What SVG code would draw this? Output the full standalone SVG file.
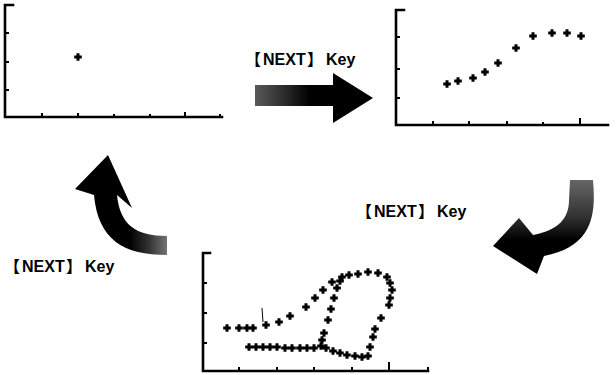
<svg xmlns="http://www.w3.org/2000/svg" xmlns:xlink="http://www.w3.org/1999/xlink" width="616" height="375" viewBox="0 0 616 375">
<style>
.ax{fill:none;stroke:#000;stroke-width:2.6;stroke-linecap:square}
.tk{fill:none;stroke:#000;stroke-width:2}
.lbl{font-family:"Liberation Sans","Noto Sans CJK JP",sans-serif;font-size:16px;font-weight:700;fill:#000}
.br{font-family:"Noto Sans CJK JP",sans-serif;font-weight:700}
</style>
<defs>
<g id="p"><path d="M-3.8,0H3.8M0,-3.8V3.8" stroke="#000" stroke-width="3"/></g>
<linearGradient id="g1" x1="255" y1="0" x2="333" y2="0" gradientUnits="userSpaceOnUse">
<stop offset="0" stop-color="#5a5a5a"/><stop offset="0.45" stop-color="#222"/><stop offset="0.7" stop-color="#000"/></linearGradient>
<linearGradient id="g2" x1="0" y1="180" x2="0" y2="240" gradientUnits="userSpaceOnUse">
<stop offset="0" stop-color="#666"/><stop offset="0.6" stop-color="#333"/><stop offset="1" stop-color="#000"/></linearGradient>
<linearGradient id="g3" x1="130" y1="0" x2="168" y2="0" gradientUnits="userSpaceOnUse">
<stop offset="0" stop-color="#000"/><stop offset="0.5" stop-color="#333"/><stop offset="1" stop-color="#777"/></linearGradient>
</defs>

<g id="chart1">
<path class="ax" d="M13,5H5V117H222"/>
<path class="tk" d="M5,33H9M5,62H9M5,90H9M42,117V113M78,117V113M114,117V114M150,117V114M185,117V112M220,117V114"/>
<use href="#p" x="78" y="57"/>
</g>

<g id="chart2">
<path class="ax" d="M404,10H396V125H608"/>
<path class="tk" d="M396,37H400M396,69H400M396,98H400M433,125V121M469,125V121M507,125V121M543,125V122M580,125V118"/>
<use href="#p" x="447" y="84"/><use href="#p" x="458" y="81"/><use href="#p" x="473" y="78"/>
<use href="#p" x="485" y="72"/><use href="#p" x="498" y="63"/><use href="#p" x="516" y="48"/>
<use href="#p" x="533" y="36"/><use href="#p" x="552" y="33"/><use href="#p" x="567" y="33"/>
<use href="#p" x="581" y="36"/>
</g>

<g id="chart3">
<path class="ax" d="M210,253H203V371H428"/>
<path class="tk" d="M203,283H207M203,313H207M203,343H207M239,371V367M277,371V367M314,371V367M352,371V367M389,371V362M428,371V367"/>
<path d="M262,308L263,322" stroke="#000" stroke-width="1"/>
<g>
<use href="#p" x="227" y="328"/><use href="#p" x="239" y="328"/><use href="#p" x="247" y="328"/>
<use href="#p" x="253" y="328"/><use href="#p" x="266" y="325"/><use href="#p" x="279" y="322"/>
<use href="#p" x="290" y="316"/><use href="#p" x="306" y="307"/><use href="#p" x="315" y="298"/>
<use href="#p" x="323" y="290"/><use href="#p" x="332" y="282"/><use href="#p" x="342" y="277"/>
<use href="#p" x="349" y="275"/><use href="#p" x="358" y="274"/><use href="#p" x="368" y="272"/>
<use href="#p" x="378" y="273"/><use href="#p" x="387" y="277"/><use href="#p" x="390" y="283"/>
<use href="#p" x="392" y="290"/><use href="#p" x="390" y="298"/><use href="#p" x="389" y="305"/>
<use href="#p" x="381" y="318"/><use href="#p" x="375" y="329"/><use href="#p" x="373" y="337"/>
<use href="#p" x="370" y="347"/><use href="#p" x="368" y="356"/>
</g>
<g>
<use href="#p" x="249" y="347"/><use href="#p" x="256" y="347"/><use href="#p" x="263" y="347"/>
<use href="#p" x="270" y="347"/><use href="#p" x="277" y="347"/><use href="#p" x="285" y="348"/>
<use href="#p" x="292" y="348"/><use href="#p" x="300" y="348"/><use href="#p" x="307" y="348"/>
<use href="#p" x="314" y="348"/><use href="#p" x="321" y="346"/><use href="#p" x="326" y="348"/>
<use href="#p" x="333" y="351"/><use href="#p" x="340" y="353"/><use href="#p" x="347" y="355"/>
<use href="#p" x="355" y="356"/><use href="#p" x="362" y="357"/>
</g>
<g>
<use href="#p" x="322" y="340"/><use href="#p" x="324" y="333"/><use href="#p" x="328" y="320"/>
<use href="#p" x="331" y="309"/><use href="#p" x="334" y="298"/><use href="#p" x="337" y="288"/>
<use href="#p" x="340" y="281"/>
</g>
</g>

<g id="arrow1">
<path d="M255,85H333V73L373,98L333,123V106H255Z" fill="url(#g1)"/>
<text class="lbl" y="65"><tspan class="br" x="245">【</tspan><tspan x="263">NEXT</tspan><tspan class="br" x="307">】</tspan><tspan x="326">Key</tspan></text>
</g>

<g id="arrow2">
<path d="M570,180H593C596,215 593,246 544,256L537,274L493,246L519,218L533,235C559,230 569,218 569,200Z" fill="url(#g2)"/>
<text class="lbl" y="217"><tspan class="br" x="356">【</tspan><tspan x="374">NEXT</tspan><tspan class="br" x="418">】</tspan><tspan x="437">Key</tspan></text>
</g>

<g id="arrow3">
<path d="M108,155L132,208L117,195C120,225 136,236 167,236L167,255C124,255 98,240 94,195L75,189Z" fill="url(#g3)"/>
<text class="lbl" y="272"><tspan class="br" x="4">【</tspan><tspan x="22">NEXT</tspan><tspan class="br" x="66">】</tspan><tspan x="85">Key</tspan></text>
</g>
</svg>
